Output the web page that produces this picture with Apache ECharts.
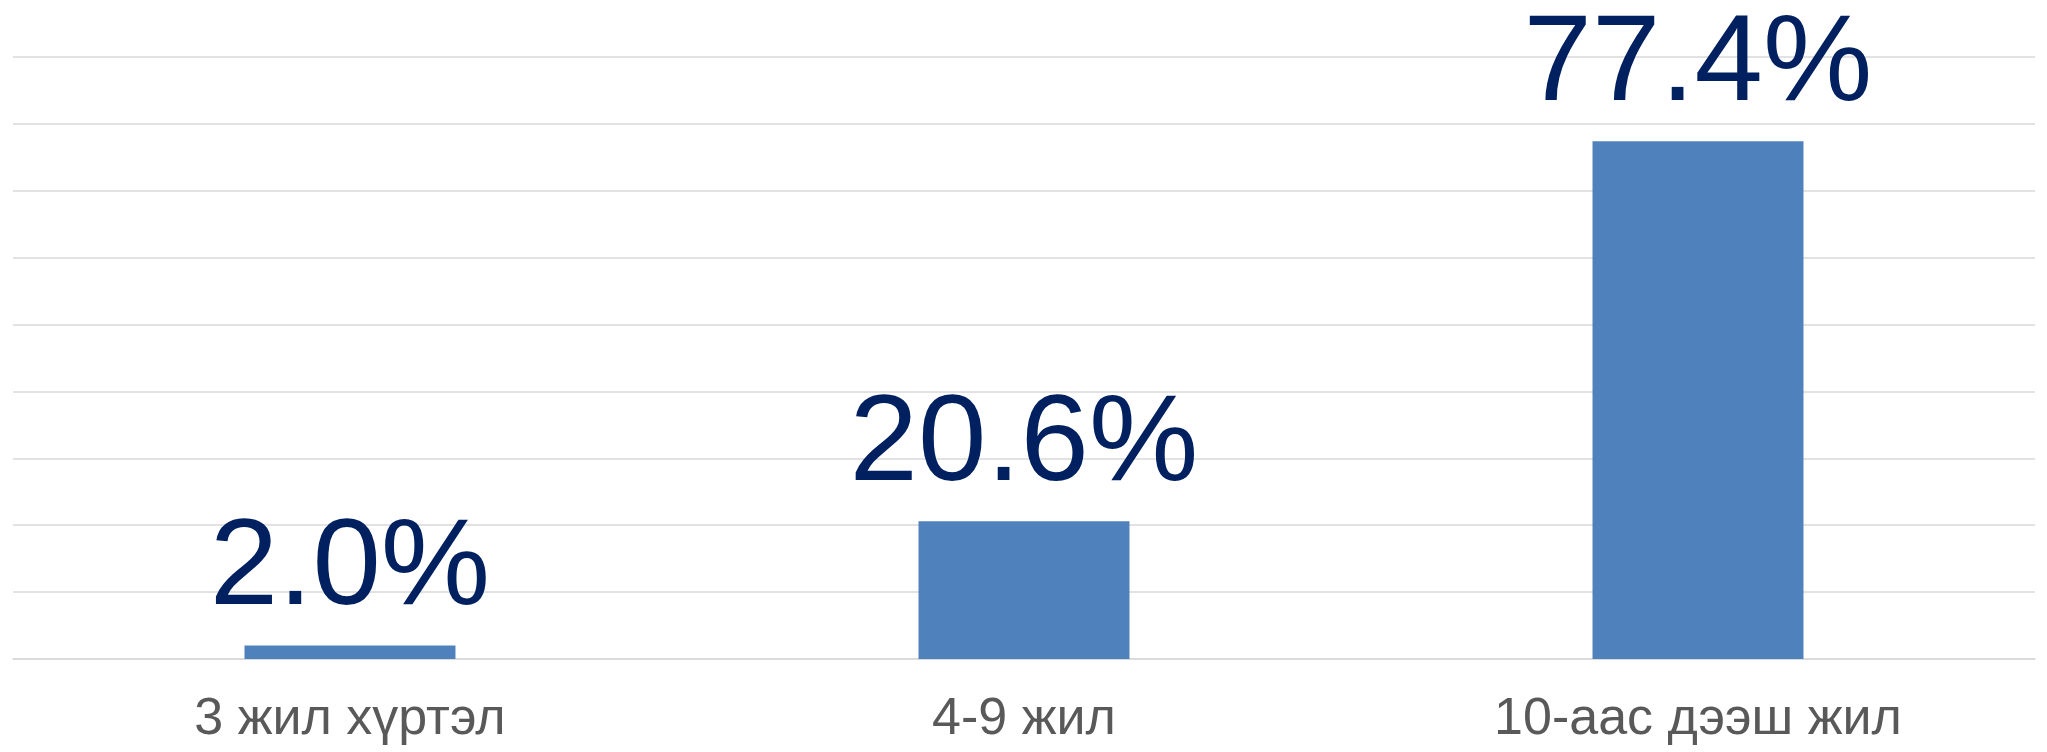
<!DOCTYPE html>
<html>
<head>
<meta charset="utf-8">
<script src="https://cdn.jsdelivr.net/npm/echarts@6/dist/echarts.min.js"></script>
<style>
html,body{margin:0;padding:0;background:#fff;}
#chart{width:2047px;height:752px;}
</style>
</head>
<body>
<div id="chart"></div>
<script>
const categories = ['3 жил хүртэл', '4-9 жил', '10-аас дээш жил'];
const values = [2.0, 20.6, 77.4];
const yMin = 0, yMax = 90, yStep = 10;

const chart = echarts.init(document.getElementById('chart'), null, {renderer: 'canvas'});
chart.setOption({
  animation: false,
  backgroundColor: '#ffffff',
  grid: {left: 13, right: 12, top: 57, bottom: 93},
  xAxis: {
    type: 'category',
    data: categories,
    axisLine: {show: true, lineStyle: {color: '#d9d9d9', width: 1.5}},
    axisTick: {show: false},
    axisLabel: {
      color: '#595959',
      fontFamily: '"Liberation Sans", Arial, sans-serif',
      fontSize: 52,
      margin: 35
    }
  },
  yAxis: {
    type: 'value',
    min: yMin, max: yMax, interval: yStep,
    axisLabel: {show: false},
    axisLine: {show: false},
    axisTick: {show: false},
    splitLine: {show: true, lineStyle: {color: '#d9d9d9', width: 1.5}}
  },
  series: [{
    type: 'bar',
    data: values,
    barWidth: '31.3%',
    itemStyle: {color: '#4f81bd'},
    label: {
      show: true,
      position: 'top',
      distance: 14,
      color: '#002060',
      fontFamily: '"Liberation Sans", Arial, sans-serif',
      fontSize: 123,
      formatter: p => p.value.toFixed(1) + '%'
    }
  }]
});
</script>
</body>
</html>
